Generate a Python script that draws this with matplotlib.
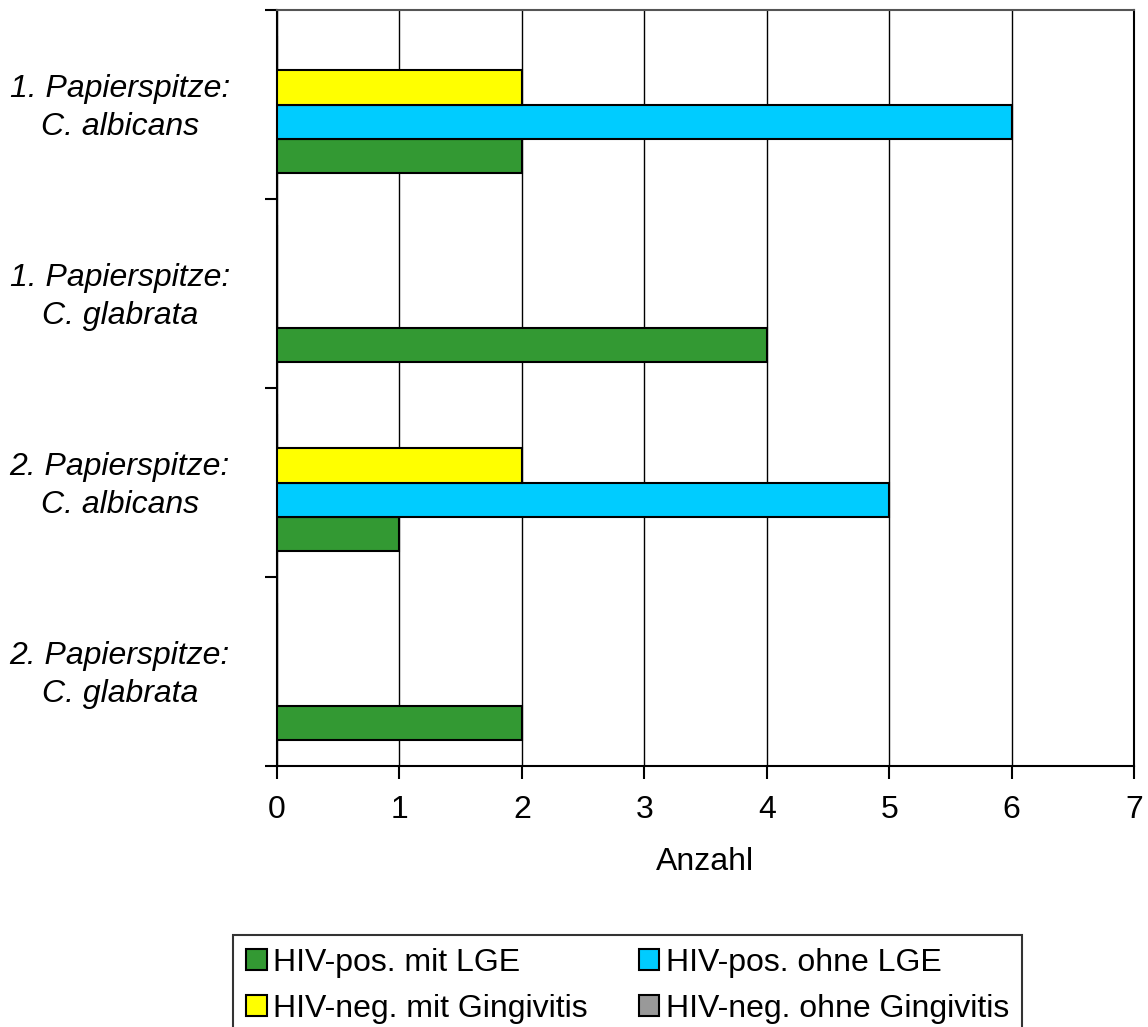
import matplotlib
matplotlib.use("Agg")
import matplotlib.pyplot as plt
import numpy as np

categories = ["1. Papierspitze:\nC. albicans", "1. Papierspitze:\nC. glabrata",
              "2. Papierspitze:\nC. albicans", "2. Papierspitze:\nC. glabrata"]
series_names = ["HIV-pos. mit LGE", "HIV-pos. ohne LGE",
                "HIV-neg. mit Gingivitis", "HIV-neg. ohne Gingivitis"]
hiv_pos_mit_lge = [2, 4, 1, 2]
hiv_pos_ohne_lge = [6, 0, 5, 0]
hiv_neg_mit_ging = [2, 0, 2, 0]
hiv_neg_ohne_ging = [0, 0, 0, 0]
colors = ["#339933", "#00CCFF", "#FFFF00", "#999999"]

plt.rcParams['font.family'] = ['Liberation Sans', 'DejaVu Sans']
FS = 23

fig = plt.figure(figsize=(11.48, 10.27), dpi=100)
ax = fig.add_axes([277/1148, 1-766/1027, (1134-277)/1148, (766-10)/1027])

h = 0.18
y = np.arange(len(categories))
offsets = [1.5*h, 0.5*h, -0.5*h, -1.5*h]
data = [hiv_pos_mit_lge, hiv_pos_ohne_lge, hiv_neg_mit_ging, hiv_neg_ohne_ging]
handles = []
for vals, off, col, name in zip(data, offsets, colors, series_names):
    b = ax.barh(y + off, vals, height=h, color=col, edgecolor='black',
                linewidth=1.5, label=name, zorder=3)
    handles.append(b)

ax.set_xlim(0, 7)
ax.set_ylim(3.5, -0.5)
ax.set_xticks(range(8))
ax.tick_params(axis='x', labelsize=FS, length=9, width=1.5, direction='out', pad=12)
ax.set_yticks(np.arange(-0.5, 4, 1))
ax.set_yticklabels([])
ax.tick_params(axis='y', which='major', length=9, width=1.5, direction='out')
ax.set_yticks(y - 0.02, minor=True)
ax.set_yticklabels(categories, minor=True, fontsize=FS, style='italic',
                   multialignment='center', linespacing=1.35)
ax.tick_params(axis='y', which='minor', length=0, pad=34)
ax.xaxis.grid(True, color='black', linewidth=1.0, zorder=0)
ax.set_axisbelow(True)
for s in ax.spines.values():
    s.set_linewidth(1.5)
ax.spines['top'].set_color('#555555')
ax.set_xlabel("Anzahl", fontsize=FS, labelpad=16)

order = [0, 2, 1, 3]
leg = fig.legend([handles[i] for i in order], [series_names[i] for i in order],
                 ncol=2, loc='upper left', bbox_to_anchor=(233/1148, 1-935/1027),
                 fontsize=FS, frameon=True, fancybox=False, edgecolor='black',
                 handlelength=0.65, handleheight=0.65, handletextpad=0.2,
                 columnspacing=1.6, borderpad=0.4, labelspacing=0.5,
                 borderaxespad=0)
leg.get_frame().set_linewidth(1.5)

fig.savefig("out.png", dpi=100)
